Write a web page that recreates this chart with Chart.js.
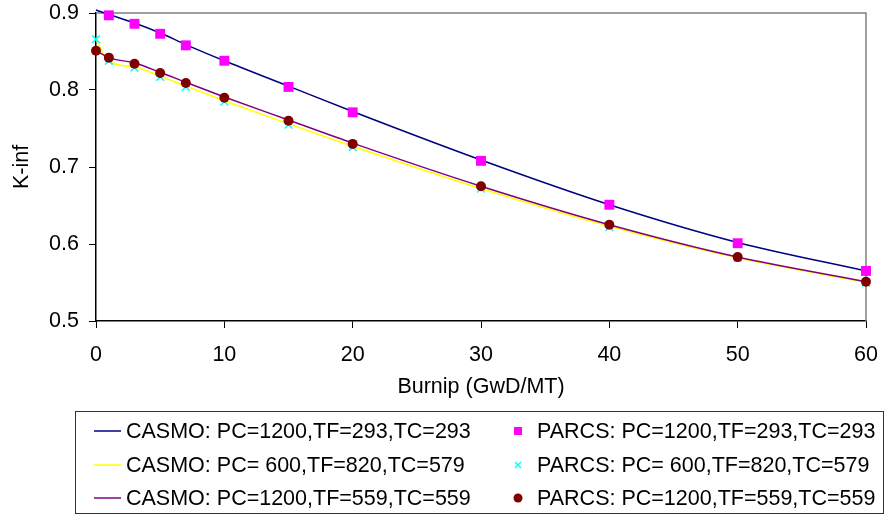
<!DOCTYPE html>
<html>
<head>
<meta charset="utf-8">
<script src="https://cdn.jsdelivr.net/npm/chart.js@4/dist/chart.umd.min.js"></script>
<style>
  html, body { margin: 0; padding: 0; background: #fff; }
  #wrap { position: relative; width: 893px; height: 517px; overflow: hidden; }
  #chart { position: absolute; left: 0; top: 0; }
  #legend {
    position: absolute; left: 75px; top: 411px; width: 809px; height: 103px;
    border: 1px solid #333; box-sizing: border-box;
    font-family: "Liberation Sans", Arial, sans-serif; font-size: 21.5px; color: #000;
  }
  .item { position: absolute; display: flex; align-items: center; height: 26px; white-space: pre; }
</style>
</head>
<body>
<div id="wrap">
  <canvas id="chart" width="893" height="517"></canvas>
  <div id="legend"></div>
</div>
<script>
(function () {
  "use strict";

  // burnup points (GWd/MT)
  const burnup = [0, 1, 3, 5, 7, 10, 15, 20, 30, 40, 50, 60];

  const casmoLabels = [
    "CASMO: PC=1200,TF=293,TC=293",
    "CASMO: PC= 600,TF=820,TC=579",
    "CASMO: PC=1200,TF=559,TC=559",
  ];
  const parcsLabels = [
    "PARCS: PC=1200,TF=293,TC=293",
    "PARCS: PC= 600,TF=820,TC=579",
    "PARCS: PC=1200,TF=559,TC=559",
  ];

  const casmo1 = [0.904, 0.898, 0.887, 0.874, 0.859, 0.838, 0.805, 0.772, 0.709, 0.651, 0.602, 0.565];
  const casmo2 = [0.866, 0.837, 0.830, 0.818, 0.805, 0.786, 0.756, 0.727, 0.672, 0.623, 0.582, 0.550];
  const casmo3 = [0.851, 0.842, 0.835, 0.823, 0.810, 0.791, 0.761, 0.731, 0.675, 0.625, 0.583, 0.551];

  const parcs1 = [null, 0.897, 0.886, 0.873, 0.858, 0.838, 0.804, 0.771, 0.708, 0.651, 0.601, 0.565];
  const parcs2 = [0.866, 0.838, 0.829, 0.817, 0.804, 0.785, 0.755, 0.726, 0.672, 0.622, 0.582, 0.550];
  const parcs3 = [0.851, 0.842, 0.834, 0.822, 0.809, 0.790, 0.760, 0.730, 0.675, 0.625, 0.583, 0.551];

  const xTicks = [0, 10, 20, 30, 40, 50, 60];
  const yTicks = [0.5, 0.6, 0.7, 0.8, 0.9];

  const FONT = "'Liberation Sans', Arial, sans-serif";

  function pts(ys) {
    return burnup.map((x, i) => ({ x, y: ys[i] }));
  }

  function lineSet(label, ys, color, order) {
    return {
      label, data: pts(ys), borderColor: color, backgroundColor: color,
      borderWidth: 1.5, pointRadius: 0, showLine: true,
      cubicInterpolationMode: "monotone", clip: false, order,
    };
  }

  function markSet(label, ys, color, style, radius, order) {
    return {
      label, data: pts(ys), borderColor: color, backgroundColor: color,
      showLine: false, pointStyle: style, pointRadius: radius,
      pointBorderWidth: style === "crossRot" ? 1.5 : 0, clip: false, order,
    };
  }

  const datasets = [
    lineSet(casmoLabels[0], casmo1, "#000080", 6),
    lineSet(casmoLabels[1], casmo2, "#ffff00", 5),
    lineSet(casmoLabels[2], casmo3, "#800080", 4),
    markSet(parcsLabels[0], parcs1, "#ff00ff", "rect", 7, 3),
    markSet(parcsLabels[1], parcs2, "#00ffff", "crossRot", 5.5, 2),
    markSet(parcsLabels[2], parcs3, "#800000", "circle", 5, 1),
  ];

  // gray frame on top and right of the plot area
  const frame = {
    id: "frame",
    beforeDatasetsDraw(chart) {
      const a = chart.chartArea, c = chart.ctx;
      c.save();
      c.strokeStyle = "#808080";
      c.lineWidth = 1.5;
      c.beginPath();
      c.moveTo(a.left, a.top);
      c.lineTo(a.right, a.top);
      c.lineTo(a.right, a.bottom);
      c.stroke();
      c.restore();
    },
  };

  new Chart(document.getElementById("chart"), {
    type: "scatter",
    data: { datasets },
    plugins: [frame],
    options: {
      responsive: false,
      animation: false,
      layout: { padding: { top: 13, right: 27, bottom: 117, left: 0 } },
      plugins: { legend: { display: false }, tooltip: { enabled: false } },
      scales: {
        x: {
          type: "linear", min: 0, max: 60,
          afterFit(s) { s.height = 79; s.paddingLeft = 0; s.paddingRight = 0; },
          afterBuildTicks(s) { s.ticks = xTicks.map((v) => ({ value: v })); },
          ticks: { color: "#000", font: { family: FONT, size: 21.5 }, padding: 14,
                   callback: (v) => String(v) },
          grid: { drawOnChartArea: false, drawTicks: true, tickLength: 7, color: "#000" },
          border: { color: "#000", width: 1.5 },
          title: { display: true, text: "Burnip (GwD/MT)", color: "#000",
                   font: { family: FONT, size: 21.5 }, padding: 0 },
        },
        y: {
          type: "linear", min: 0.5, max: 0.9,
          afterFit(s) { s.width = 96; s.paddingTop = 0; s.paddingBottom = 0; },
          afterBuildTicks(s) { s.ticks = yTicks.map((v) => ({ value: v })); },
          ticks: { color: "#000", font: { family: FONT, size: 21.5 }, padding: 10,
                   callback: (v) => Number(v).toFixed(1) },
          grid: { drawOnChartArea: false, drawTicks: true, tickLength: 7, color: "#000" },
          border: { color: "#000", width: 1.5 },
          title: { display: true, text: "K-inf", color: "#000",
                   font: { family: FONT, size: 21.5 }, padding: { top: 9, bottom: 0 } },
        },
      },
    },
  });

  // legend: two columns, three rows
  const legend = document.getElementById("legend");
  const rowY = [6, 40, 73];
  function swatch(ds) {
    const c = ds.borderColor;
    if (ds.showLine) {
      return `<svg width="27" height="10" style="margin-right:5px"><line x1="0" y1="5" x2="27" y2="5" stroke="${c}" stroke-width="1.5"/></svg>`;
    }
    let shape = "";
    if (ds.pointStyle === "rect") shape = `<rect x="4" y="4" width="8" height="8" fill="${c}"/>`;
    else if (ds.pointStyle === "circle") shape = `<circle cx="8" cy="8" r="4.5" fill="${c}"/>`;
    else shape = `<path d="M5 5L11 11M11 5L5 11" stroke="${c}" stroke-width="1.5"/>`;
    return `<svg width="16" height="16" style="margin-right:11px">${shape}</svg>`;
  }
  datasets.forEach((ds, i) => {
    const col = ds.showLine ? 0 : 1;
    const row = i % 3;
    const el = document.createElement("div");
    el.className = "item";
    el.style.left = col === 0 ? "18px" : "434px";
    el.style.top = rowY[row] + "px";
    el.innerHTML = swatch(ds) + `<span>${ds.label}</span>`;
    legend.appendChild(el);
  });
})();
</script>
</body>
</html>
